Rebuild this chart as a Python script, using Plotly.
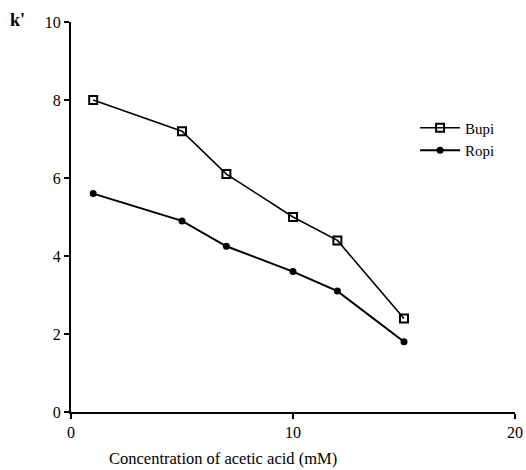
import plotly.graph_objects as go

acetic_mM = [1, 5, 7, 10, 12, 15]
bupi_k = [8.0, 7.2, 6.1, 5.0, 4.4, 2.4]
ropi_k = [5.6, 4.9, 4.25, 3.6, 3.1, 1.8]
x_ticks = [0, 10, 20]
y_ticks = [0, 2, 4, 6, 8, 10]

FONT = "Liberation Serif"

fig = go.Figure()
fig.add_trace(go.Scatter(
    x=acetic_mM, y=bupi_k, name="Bupi", mode="lines+markers",
    line=dict(color="black", width=1.6),
    marker=dict(symbol="square-open", size=8, color="black", line=dict(width=2, color="black")),
))
fig.add_trace(go.Scatter(
    x=acetic_mM, y=ropi_k, name="Ropi", mode="lines+markers",
    line=dict(color="black", width=2),
    marker=dict(symbol="circle", size=7, color="black"),
))

fig.update_layout(
    width=526, height=470,
    margin=dict(l=71, r=11, t=22, b=58),
    paper_bgcolor="white", plot_bgcolor="white",
    font=dict(family=FONT, size=14, color="black"),
    showlegend=True,
    legend=dict(x=0.775, y=0.70, xanchor="left", yanchor="middle",
                font=dict(family=FONT, size=15), bgcolor="rgba(0,0,0,0)",
                tracegroupgap=0, itemwidth=40),
    xaxis=dict(range=[0, 20], tickvals=x_ticks, showgrid=False, zeroline=False,
               showline=True, linecolor="black", linewidth=2, automargin=False,
               ticks="outside", ticklen=5, tickwidth=2, tickcolor="black",
               tickfont=dict(family=FONT, size=16)),
    yaxis=dict(range=[0, 10], tickvals=y_ticks, showgrid=False, zeroline=False,
               showline=True, linecolor="black", linewidth=2, automargin=False,
               ticks="outside", ticklen=5, tickwidth=2, tickcolor="black",
               tickfont=dict(family=FONT, size=16)),
    annotations=[
        dict(text="Concentration of acetic acid (mM)", xref="paper", yref="paper",
             x=0.342, y=-0.12, xanchor="center", yanchor="middle", showarrow=False,
             font=dict(family=FONT, size=16.5)),
        dict(text="<b>k'</b>", xref="paper", yref="paper",
             x=-0.12, y=1.005, xanchor="center", yanchor="middle", showarrow=False,
             font=dict(family=FONT, size=18)),
    ],
)

# remove the default page margin so the 526x470 figure fills the window exactly
fig.write_html("out.html", config={"displayModeBar": False},
               post_script="document.body.style.margin='0px';")
